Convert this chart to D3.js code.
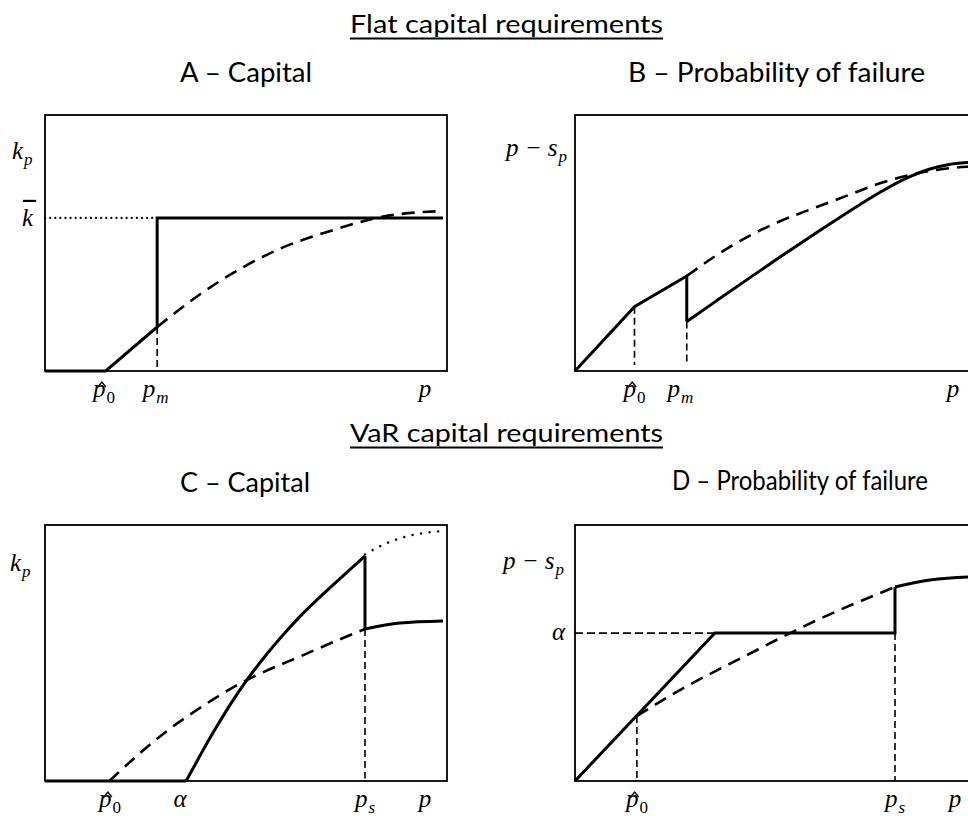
<!DOCTYPE html>
<html>
<head>
<meta charset="utf-8">
<script src="https://cdn.jsdelivr.net/npm/d3@7"></script>
<style>
  html, body { margin: 0; padding: 0; background: #fff; overflow: hidden; }
  svg { display: block; }
  .title { font-family: Lato, "Open Sans", sans-serif; fill: #000; }
  .math { font-family: "Liberation Serif", "Times New Roman", serif; font-style: italic; fill: #000; }
</style>
</head>
<body>
<svg id="chart" width="968" height="816"></svg>
<script>
// ---- values (p and y both on a 0..1 scale inside each frame)

// A - flat requirement, capital
const kBar = 0.598;
const aSolid = [[0, 0], [0.151, 0], [0.279, 0.172], [0.279, 0.598], [0.99, 0.598]];
const aUnregulated = [[0.279, 0.172], [0.386, 0.30], [0.468, 0.383], [0.585, 0.478], [0.716, 0.55], [0.841, 0.603], [0.99, 0.625]];
const aKbarGuide = [[0, 0.598], [0.279, 0.598]];
const aDrops = [[0.279, 0.172, 0]];
const aTicks = [{ at: 0.147, base: 'p', sub: '0', hat: true }, { at: 0.275, base: 'p', sub: 'm' }, { at: 0.945, base: 'p' }];

// B - flat requirement, probability of failure
const bSolidLow = [[0, 0], [0.148, 0.251], [0.278, 0.371], [0.278, 0.193]];
const bSolidHigh = [[0.278, 0.193], [0.35, 0.272], [0.428, 0.357], [0.51, 0.445], [0.592, 0.531], [0.677, 0.618], [0.759, 0.698], [0.826, 0.754], [0.883, 0.789], [0.925, 0.805], [0.975, 0.814], [1.0, 0.816]];
const bUnregulated = [[0.278, 0.371], [0.35, 0.45], [0.428, 0.523], [0.51, 0.585], [0.592, 0.635], [0.677, 0.685], [0.759, 0.733], [0.85, 0.772], [0.925, 0.791], [0.975, 0.798], [1.0, 0.80]];
const bDrops = [[0.148, 0.251, 0.023], [0.278, 0.193, 0.023]];
const bTicks = [{ at: 0.148, base: 'p', sub: '0', hat: true }, { at: 0.262, base: 'p', sub: 'm' }, { at: 0.94, base: 'p' }];

// C - VaR requirement, capital
const cFloor = [[0, 0], [0.351, 0]];
const cRise = [[0.351, 0], [0.386, 0.10], [0.419, 0.191], [0.468, 0.316], [0.502, 0.394], [0.551, 0.494], [0.593, 0.572], [0.634, 0.642], [0.716, 0.765], [0.796, 0.879]];
const cJump = [[0.796, 0.879], [0.796, 0.594]];
const cAfter = [[0.796, 0.594], [0.883, 0.617], [0.99, 0.625]];
const cVaRExtension = [[0.796, 0.885], [0.84, 0.922], [0.883, 0.948], [0.99, 0.977]];
const cUnregulated = [[0.16, 0], [0.23, 0.1], [0.303, 0.195], [0.385, 0.285], [0.468, 0.366], [0.55, 0.43], [0.634, 0.486], [0.716, 0.542], [0.796, 0.594]];
const cDrops = [[0.796, 0.594, 0.01]];
const cTicks = [{ at: 0.162, base: 'p', sub: '0', hat: true }, { at: 0.336, base: '\u03b1' }, { at: 0.796, base: 'p', sub: 's' }, { at: 0.945, base: 'p' }];

// D - VaR requirement, probability of failure
const alphaLevel = 0.578;
const dSolid = [[0, 0], [0.348, 0.578], [0.796, 0.578], [0.796, 0.758]];
const dAfter = [[0.796, 0.758], [0.883, 0.785], [0.978, 0.797], [1.0, 0.798]];
const dUnregulated = [[0.154, 0.254], [0.261, 0.355], [0.428, 0.492], [0.592, 0.621], [0.796, 0.758]];
const dAlphaGuide = [[0, 0.578], [0.348, 0.578]];
const dDrops = [[0.154, 0.254, 0], [0.796, 0.578, 0]];
const dTicks = [{ at: 0.154, base: 'p', sub: '0', hat: true }, { at: 0.796, base: 'p', sub: 's' }, { at: 0.945, base: 'p' }];

// ---- drawing
const svg = d3.select('#chart');
const W = 402, H = 256;

const STYLE = {
  solid: { w: 3 },
  dashed: { w: 2.6, dash: '13,8' },
  drop: { w: 1.6, dash: '7,4' },
  guide: { w: 1.8, dash: '8,4' },
  dotted: { w: 2.2, dash: '0.1,5', cap: 'round' },
  dottedWide: { w: 2.4, dash: '0.1,8.5', cap: 'round' },
};

function makePanel(left, top) {
  const x = d3.scaleLinear().domain([0, 1]).range([left, left + W]);
  const y = d3.scaleLinear().domain([0, 1]).range([top + H, top]);
  const g = svg.append('g');
  g.append('rect')
    .attr('x', x(0)).attr('y', y(1))
    .attr('width', x(1) - x(0)).attr('height', y(0) - y(1))
    .attr('fill', 'none').attr('stroke', '#000').attr('stroke-width', 1.8);
  return { x, y, g };
}

function draw(P, pts, style, curve) {
  const line = d3.line().x(d => P.x(d[0])).y(d => P.y(d[1])).curve(curve || d3.curveLinear);
  P.g.append('path')
    .attr('d', line(pts))
    .attr('fill', 'none')
    .attr('stroke', '#000')
    .attr('stroke-width', style.w)
    .attr('stroke-dasharray', style.dash || null)
    .attr('stroke-linecap', style.cap || 'butt')
    .attr('stroke-linejoin', 'miter');
}

function drops(P, list) {
  list.forEach(d => draw(P, [[d[0], d[1]], [d[0], d[2]]], STYLE.drop));
}

// math label: italic base, optional subscript, hat or bar
function mathLabel(P, px, py, spec, anchor) {
  const t = P.g.append('text').attr('class', 'math')
    .attr('x', px).attr('y', py)
    .attr('font-size', 25)
    .attr('text-anchor', anchor || 'middle');
  t.append('tspan').text(spec.base);
  if (spec.sub) {
    const upright = /\d/.test(spec.sub);
    t.append('tspan').text(spec.sub)
      .attr('font-size', 17)
      .attr('dx', 1)
      .attr('dy', 6)
      .attr('font-style', upright ? 'normal' : 'italic');
  }
  const ext = t.node().getExtentOfChar(0);
  if (spec.hat) {
    // small circumflex drawn above the italic p
    const hx = ext.x + ext.width / 2 + 2.5;
    P.g.append('path')
      .attr('d', `M${hx - 4},${py - 10} L${hx},${py - 15} L${hx + 4},${py - 10}`)
      .attr('fill', 'none').attr('stroke', '#000').attr('stroke-width', 1.3);
  }
  if (spec.bar) {
    P.g.append('line')
      .attr('x1', ext.x + 1).attr('x2', ext.x + ext.width + 3)
      .attr('y1', py - 25).attr('y2', py - 25)
      .attr('stroke', '#000').attr('stroke-width', 2.2);
  }
  return t;
}

function ticks(P, list) {
  list.forEach(d => mathLabel(P, P.x(d.at), P.y(0) + 26, d));
}

function title(text, cx, baseline, size, width, underline) {
  svg.append('text').attr('class', 'title')
    .attr('x', cx).attr('y', baseline)
    .attr('font-size', size)
    .attr('text-anchor', 'middle')
    .attr('textLength', width)
    .attr('lengthAdjust', 'spacingAndGlyphs')
    .text(text);
  if (underline) {
    svg.append('line')
      .attr('x1', cx - width / 2).attr('x2', cx + width / 2)
      .attr('y1', baseline + 5.5).attr('y2', baseline + 5.5)
      .attr('stroke', '#000').attr('stroke-width', 2);
  }
}

// titles
title('Flat capital requirements', 506.5, 33, 25, 313, true);
title('A \u2013 Capital', 246, 82, 27, 132);
title('B \u2013 Probability of failure', 776.5, 82, 27, 297);
title('VaR capital requirements', 506.5, 442, 25, 313, true);
title('C \u2013 Capital', 245, 492, 27, 130);
title('D \u2013 Probability of failure', 800, 490, 27, 256);

// A
const A = makePanel(45, 115);
draw(A, aKbarGuide, STYLE.dotted);
drops(A, aDrops);
draw(A, aUnregulated, STYLE.dashed, d3.curveMonotoneX);
draw(A, aSolid, STYLE.solid);
mathLabel(A, A.x(0) - 33, A.y(0.83), { base: 'k', sub: 'p' }, 'start');
mathLabel(A, A.x(0) - 23, A.y(kBar) + 8, { base: 'k', bar: true }, 'start');
ticks(A, aTicks);

// B
const B = makePanel(575, 115);
drops(B, bDrops);
draw(B, bUnregulated, STYLE.dashed, d3.curveMonotoneX);
draw(B, bSolidLow, STYLE.solid);
draw(B, bSolidHigh, STYLE.solid, d3.curveMonotoneX);
mathLabel(B, B.x(0) - 69, B.y(0.84), { base: 'p \u2212 s', sub: 'p' }, 'start');
ticks(B, bTicks);

// C
const C = makePanel(45, 525);
drops(C, cDrops);
draw(C, cUnregulated, STYLE.dashed, d3.curveMonotoneX);
draw(C, cVaRExtension, STYLE.dottedWide, d3.curveMonotoneX);
draw(C, cFloor, STYLE.solid);
draw(C, cRise, STYLE.solid, d3.curveMonotoneX);
draw(C, cJump, STYLE.solid);
draw(C, cAfter, STYLE.solid, d3.curveMonotoneX);
mathLabel(C, C.x(0) - 35, C.y(0.82), { base: 'k', sub: 'p' }, 'start');
ticks(C, cTicks);

// D
const D = makePanel(575, 525);
draw(D, dAlphaGuide, STYLE.guide);
drops(D, dDrops);
draw(D, dUnregulated, STYLE.dashed, d3.curveMonotoneX);
draw(D, dSolid, STYLE.solid);
draw(D, dAfter, STYLE.solid, d3.curveMonotoneX);
mathLabel(D, D.x(0) - 72, D.y(0.83), { base: 'p \u2212 s', sub: 'p' }, 'start');
mathLabel(D, D.x(0) - 23, D.y(alphaLevel) + 7, { base: '\u03b1' }, 'start');
ticks(D, dTicks);
</script>
</body>
</html>
